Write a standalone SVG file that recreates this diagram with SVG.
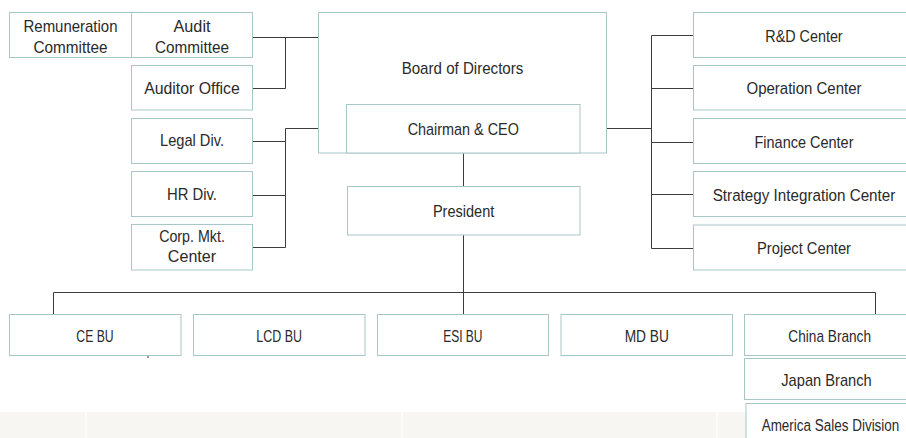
<svg xmlns="http://www.w3.org/2000/svg" width="906" height="438" viewBox="0 0 906 438">
<style>
.box{fill:#ffffff;stroke:#a9c6c6;stroke-width:1}
.t{font-family:"Liberation Sans",Arial,sans-serif;font-size:17px;fill:#2a2a2a;text-anchor:middle}
.c{fill:none;stroke:#3c3c3c;stroke-width:1}
</style>
<rect x="0" y="0" width="906" height="438" fill="#ffffff"/>
<g id="band">
<rect x="0" y="412" width="746" height="26" fill="#f7f6f2"/>
<rect x="85" y="412" width="2" height="26" fill="#fcfbf9"/>
<rect x="401" y="412" width="2" height="26" fill="#fcfbf9"/>
<rect x="716" y="412" width="2" height="26" fill="#fcfbf9"/>
</g>
<g id="connectors">
<path class="c" d="M252.5 37.5H318.5M285.5 37.5V88.5M252.5 88.5H285.5"/>
<path class="c" d="M346.5 128.5H285.5V247.5M252.5 141.5H285.5M252.5 195.5H285.5M252.5 247.5H285.5"/>
<path class="c" d="M580 128.5H651.5M651.5 35.5V248.5M651.5 35.5H693.5M651.5 88.5H693.5M651.5 142.5H693.5M651.5 194.5H693.5M651.5 248.5H693.5"/>
<path class="c" d="M463.5 153V186.5M463.5 235V314.5M53.5 292.5H875.5M53.5 292.5V314.5M875.5 292.5V314.5"/>
<path d="M148 355V358" stroke="#555" stroke-width="1.2"/>
</g>
<g id="board">
<rect class="box" x="318.5" y="12.5" width="288" height="140.5"/>
<text class="t" x="462.5" y="73.5" textLength="121.7" lengthAdjust="spacingAndGlyphs">Board of Directors</text>
</g>
<g id="chairman">
<rect class="box" x="346.5" y="104.5" width="233.5" height="48.5"/>
<text class="t" x="463.3" y="134.5" textLength="111.3" lengthAdjust="spacingAndGlyphs">Chairman &amp; CEO</text>
</g>
<g id="remuneration">
<rect class="box" x="9.5" y="12.5" width="122" height="45"/>
<text class="t" x="70.5" y="32.3" textLength="94" lengthAdjust="spacingAndGlyphs">Remuneration</text>
<text class="t" x="70.5" y="53.3" textLength="74" lengthAdjust="spacingAndGlyphs">Committee</text>
</g>
<g id="audit">
<rect class="box" x="131.5" y="12.5" width="121" height="45"/>
<text class="t" x="192" y="32.3" textLength="37" lengthAdjust="spacingAndGlyphs">Audit</text>
<text class="t" x="192" y="53.3" textLength="74" lengthAdjust="spacingAndGlyphs">Committee</text>
</g>
<g id="auditor">
<rect class="box" x="131.5" y="65.5" width="121" height="44.5"/>
<text class="t" x="192" y="94" textLength="95.7" lengthAdjust="spacingAndGlyphs">Auditor Office</text>
</g>
<g id="legal">
<rect class="box" x="131.5" y="118.5" width="121" height="45"/>
<text class="t" x="192" y="146.3" textLength="64" lengthAdjust="spacingAndGlyphs">Legal Div.</text>
</g>
<g id="hr">
<rect class="box" x="131.5" y="171.5" width="121" height="45"/>
<text class="t" x="192" y="200" textLength="50" lengthAdjust="spacingAndGlyphs">HR Div.</text>
</g>
<g id="corp">
<rect class="box" x="131.5" y="224.5" width="121" height="45.5"/>
<text class="t" x="192" y="241.7" textLength="65.7" lengthAdjust="spacingAndGlyphs">Corp. Mkt.</text>
<text class="t" x="192" y="261.7" textLength="48.3" lengthAdjust="spacingAndGlyphs">Center</text>
</g>
<g id="president">
<rect class="box" x="347.5" y="186.5" width="232.5" height="48.5"/>
<text class="t" x="463.6" y="217" textLength="61.3" lengthAdjust="spacingAndGlyphs">President</text>
</g>
<g id="rd">
<rect class="box" x="693.5" y="12.5" width="222" height="45"/>
<text class="t" x="804" y="42" textLength="77.3" lengthAdjust="spacingAndGlyphs">R&amp;D Center</text>
</g>
<g id="operation">
<rect class="box" x="693.5" y="65.5" width="222" height="44.5"/>
<text class="t" x="804" y="94" textLength="115" lengthAdjust="spacingAndGlyphs">Operation Center</text>
</g>
<g id="finance">
<rect class="box" x="693.5" y="118.5" width="222" height="45"/>
<text class="t" x="804" y="147.5" textLength="99" lengthAdjust="spacingAndGlyphs">Finance Center</text>
</g>
<g id="strategy">
<rect class="box" x="693.5" y="171.5" width="222" height="45"/>
<text class="t" transform="translate(804 201) scale(0.895 1)">Strategy Integration Center</text>
</g>
<g id="project">
<rect class="box" x="693.5" y="225" width="222" height="45"/>
<text class="t" x="804" y="254" textLength="94" lengthAdjust="spacingAndGlyphs">Project Center</text>
</g>
<g id="ce">
<rect class="box" x="9.5" y="314.5" width="171.5" height="41"/>
<text class="t" x="95" y="342" textLength="37.3" lengthAdjust="spacingAndGlyphs">CE BU</text>
</g>
<g id="lcd">
<rect class="box" x="193.5" y="314.5" width="171.5" height="41"/>
<text class="t" x="279.2" y="342" textLength="45.7" lengthAdjust="spacingAndGlyphs">LCD BU</text>
</g>
<g id="esi">
<rect class="box" x="377.5" y="314.5" width="171" height="41"/>
<text class="t" x="462.8" y="342" textLength="39.3" lengthAdjust="spacingAndGlyphs">ESI BU</text>
</g>
<g id="md">
<rect class="box" x="561" y="314.5" width="171.5" height="41"/>
<text class="t" x="646.8" y="342" textLength="44.3" lengthAdjust="spacingAndGlyphs">MD BU</text>
</g>
<g id="china">
<rect class="box" x="744.5" y="314.5" width="171.5" height="41"/>
<text class="t" x="829.7" y="342" textLength="82.7" lengthAdjust="spacingAndGlyphs">China Branch</text>
</g>
<g id="japan">
<rect class="box" x="744.5" y="358.5" width="171.5" height="41"/>
<text class="t" x="826.5" y="386" textLength="90.5" lengthAdjust="spacingAndGlyphs">Japan Branch</text>
</g>
<g id="america">
<rect class="box" x="746" y="403.5" width="171" height="45"/>
<text class="t" transform="translate(830.5 431) scale(0.792 1)">America Sales Division</text>
</g>
</svg>
